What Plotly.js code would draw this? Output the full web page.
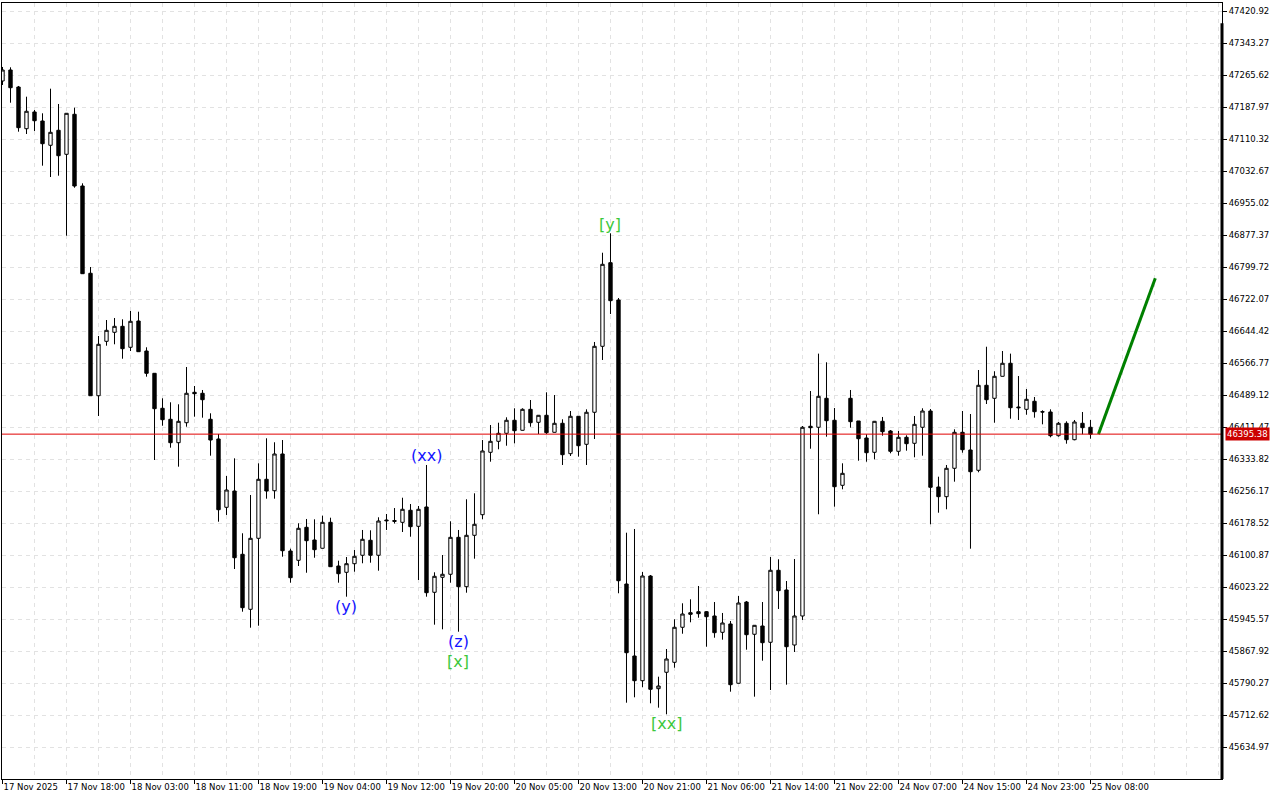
<!DOCTYPE html>
<html>
<head>
<meta charset="utf-8">
<script src="https://cdn.plot.ly/plotly-3.0.1.min.js"></script>
<style>html,body{margin:0;padding:0;background:#fff}#chart{width:1280px;height:800px}</style>
</head>
<body>
<div id="chart"></div>
<script>
// ---- data ----
const xLabels = ["17 Nov 2025","17 Nov 18:00","18 Nov 03:00","18 Nov 11:00","18 Nov 19:00","19 Nov 04:00","19 Nov 12:00","19 Nov 20:00","20 Nov 05:00","20 Nov 13:00","20 Nov 21:00","21 Nov 06:00","21 Nov 14:00","21 Nov 22:00","24 Nov 07:00","24 Nov 15:00","24 Nov 23:00","25 Nov 08:00"];

const opens = [47252.3,47279.0,47237.7,47136.5,47177.1,47155.2,47096.3,47132.7,47074.4,47171.5,
46997.5,46785.7,46488.6,46620.6,46642.5,46657.0,46606.1,46669.9,46597.1,46543.0,
46458.1,46431.4,46374.6,46423.1,46496.9,46494.5,46431.4,46383.6,46217.8,46257.4,
46103.8,45970.3,46142.6,46285.8,46258.1,46347.2,46111.8,46089.2,46169.3,46138.5,
46118.4,46181.4,46075.4,46060.1,46081.0,46101.4,46137.8,46101.4,46187.0,46183.4,
46181.4,46210.6,46171.7,46218.6,46011.6,46048.0,46055.3,46145.0,46025.2,46149.9,
46199.9,46351.3,46378.0,46397.4,46429.0,46404.7,46455.6,46424.1,46441.1,46399.8,
46421.7,46347.9,46438.7,46370.7,46448.4,46608.5,46811.4,46720.9,46031.7,45857.0,
45797.1,46051.1,45777.7,45817.5,45841.7,45926.7,45962.1,45964.5,45964.5,45954.1,
45914.5,45934.7,45790.8,45988.0,45909.7,45929.8,45890.3,46065.0,46017.2,45883.7,
45954.1,46414.4,46412.0,46482.3,46429.0,46271.2,46482.3,46427.3,46386.0,46351.3,
46426.5,46403.0,46353.7,46387.7,46373.1,46412.0,46451.5,46267.1,46243.6,46312.5,
46399.8,46356.9,46307.6,46513.9,46482.3,46535.7,46567.3,46461.2,46455.6,46475.1,
46449.8,46449.1,46391.6,46421.7,46381.9,46421.7,46412.0];

const highs = [47286.3,47285.5,47240.2,47214.2,47181.9,47173.9,47233.6,47196.5,47174.6,47187.5,
47004.0,46800.9,46633.5,46672.3,46677.2,46674.0,46694.2,46692.5,46606.1,46543.7,
46482.3,46472.6,46467.8,46558.3,46512.2,46502.5,46445.9,46395.7,46293.8,46336.7,
46154.8,46247.7,46324.6,46385.3,46375.6,46381.1,46117.4,46179.0,46189.5,46188.7,
46197.5,46192.6,46088.3,46097.2,46114.2,46162.8,46162.0,46193.6,46201.6,46216.1,
46241.1,46225.8,46221.0,46320.5,46060.1,46102.1,46183.9,46162.8,46237.3,46251.8,
46381.1,46417.5,46423.1,46436.2,46458.1,46458.1,46478.2,46441.8,46496.9,46490.3,
46431.4,46451.5,46439.4,46455.6,46619.0,46835.6,46882.7,46725.7,46156.2,46165.2,
46060.8,46053.5,45806.8,45874.0,45946.1,45984.9,45994.6,46026.9,45966.2,45988.0,
45961.4,45941.9,46002.6,45990.5,45932.2,45988.0,46097.2,46091.7,46039.0,46092.4,
46415.1,46500.0,46590.7,46569.7,46458.8,46324.6,46502.5,46427.3,46395.0,46427.3,
46437.0,46405.4,46403.0,46392.6,46439.4,46458.1,46456.4,46292.1,46320.5,46407.1,
46451.5,46444.2,46551.0,46607.5,46547.9,46597.1,46590.7,46536.4,46504.9,46485.5,
46453.2,46455.6,46424.8,46426.5,46429.7,46449.1,46429.7];

const lows = [47242.6,47199.6,47129.3,47123.7,47131.0,47046.8,47019.3,47022.5,46876.9,46993.4,
46784.0,46487.9,46439.4,46610.0,46613.4,46578.4,46597.1,46594.7,46534.8,46332.6,
46415.8,46362.5,46316.4,46413.4,46437.7,46435.3,46343.1,46182.9,46199.2,46068.1,
45964.5,45925.7,45930.5,46238.7,46238.7,46098.0,46034.9,46075.4,46059.1,46095.5,
46117.9,46073.0,46034.9,46000.9,46061.6,46082.0,46083.4,46064.0,46162.8,46178.5,
46157.9,46146.5,46041.4,46000.9,45933.0,45921.8,46034.9,45916.0,46010.6,46093.1,
46188.7,46328.5,46358.6,46367.3,46373.1,46404.2,46413.4,46395.7,46395.7,46399.3,
46320.5,46342.3,46340.6,46320.5,46383.6,46575.3,46686.9,46009.2,45743.7,45756.8,
45781.1,45742.2,45731.6,45715.5,45828.6,45911.1,45938.8,45949.9,45879.6,45901.4,
45896.6,45770.4,45790.3,45872.3,45758.3,45845.6,45774.5,45971.1,45787.4,45866.7,
45944.4,46360.0,46200.9,46389.2,46219.3,46261.5,46411.0,46330.9,46328.5,46334.3,
46391.6,46348.9,46343.1,46355.2,46339.2,46343.1,46176.6,46204.7,46213.0,46280.0,
46350.3,46117.4,46302.8,46468.5,46423.1,46535.2,46432.8,46429.7,46442.5,46435.3,
46419.2,46387.7,46389.2,46372.2,46380.4,46395.0,46384.3];

const closes = [47279.0,47236.0,47139.0,47178.8,47155.9,47100.1,47127.8,47071.0,47173.9,46997.5,
46784.7,46488.6,46613.4,46647.3,46657.0,46602.7,46669.2,46595.4,46543.0,46457.1,
46430.4,46374.6,46426.5,46494.5,46493.5,46478.9,46381.1,46212.0,46259.8,46095.5,
45974.2,46142.6,46285.8,46257.4,46347.2,46112.5,46047.0,46166.9,46136.8,46115.0,
46181.4,46073.7,46056.7,46081.0,46098.9,46140.2,46101.4,46184.6,46185.3,46185.8,
46213.0,46170.8,46213.0,46010.6,46050.4,46055.3,46145.0,46025.2,46149.9,46176.6,
46354.5,46378.0,46397.4,46429.0,46403.7,46455.6,46423.1,46441.1,46398.9,46421.7,
46345.5,46438.7,46367.3,46448.4,46608.5,46807.5,46719.2,46039.7,45865.0,45797.1,
46051.1,45776.2,45784.2,45849.7,45926.7,45958.9,45958.2,45959.7,45952.4,45913.6,
45937.1,45787.4,45985.6,45908.7,45931.5,45889.3,46065.0,46015.5,45879.6,45954.1,
46412.0,46411.0,46487.2,46428.0,46267.8,46300.3,46425.6,46384.3,46350.3,46426.5,
46401.3,46353.7,46387.7,46372.2,46419.2,46451.5,46266.4,46243.6,46312.5,46399.8,
46357.6,46304.2,46513.9,46478.9,46535.7,46567.3,46459.5,46459.5,46479.9,46449.8,
46449.1,46391.6,46421.7,46381.9,46424.8,46411.0,46395.38];

const yTickVals = [45634.97,45712.62,45790.27,45867.92,45945.57,46023.22,46100.87,46178.52,
46256.17,46333.82,46411.47,46489.12,46566.77,46644.42,46722.07,46799.72,46877.37,46955.02,
47032.67,47110.32,47187.97,47265.62,47343.27,47420.92];

const lastPrice = 46395.38;
const forecastX = [137, 144.1];
const forecastY = [46395.38, 46773.5];

const waveLabels = [
  {text:"(xx)", bar:53, at:"high", color:"#1414ff", shift:-2},
  {text:"(y)",  bar:43, at:"low",  color:"#1414ff", shift:2},
  {text:"(z)",  bar:57, at:"low",  color:"#1414ff", shift:2},
  {text:"[x]",  bar:57, at:"low",  color:"#3cc83c", shift:-18},
  {text:"[y]",  bar:76, at:"high", color:"#3cc83c", shift:-3},
  {text:"[xx]", bar:83, at:"low",  color:"#3cc83c", shift:2}
];

// ---- build ----
const BAR_STEP = 8; // candles between labelled ticks
const idx = opens.map((_, i) => i);
const majorVals = xLabels.map((_, k) => k * BAR_STEP);
const minorVals = [];
for (let v = 4; v <= 152; v += 4) if (majorVals.indexOf(v) < 0) minorVals.push(v);

const font = {family: "DejaVu Sans, sans-serif", size: 8.5, color: "#000"};
const gridColor = "#e2e2e2";
const gridDash = "4px,4px";

const candles = {
  type: "candlestick",
  x: idx, open: opens, high: highs, low: lows, close: closes,
  increasing: {line: {color: "#000", width: 1}, fillcolor: "#fff"},
  decreasing: {line: {color: "#000", width: 1}, fillcolor: "#000"},
  whiskerwidth: 0,
  hoverinfo: "skip",
  showlegend: false
};

const forecast = {
  type: "scatter", mode: "lines", x: forecastX, y: forecastY,
  line: {color: "#008000", width: 3}, hoverinfo: "skip", showlegend: false
};

const annotations = waveLabels.map(w => ({
  x: w.bar, xref: "x",
  y: w.at === "high" ? highs[w.bar] : lows[w.bar], yref: "y",
  yanchor: w.at === "high" ? "bottom" : "top",
  yshift: w.shift,
  text: w.text, showarrow: false,
  font: {family: "DejaVu Sans, sans-serif", size: 16, color: w.color}
}));
annotations.push({
  xref: "paper", x: 1, xanchor: "left", xshift: 3,
  yref: "y", y: lastPrice, yanchor: "middle",
  text: lastPrice.toFixed(2), showarrow: false,
  bgcolor: "#cc0000", borderpad: 1,
  font: {family: "DejaVu Sans, sans-serif", size: 8.5, color: "#fff"}
});

const layout = {
  width: 1280, height: 800,
  margin: {l: 2, r: 58, t: 3, b: 21, pad: 0},
  paper_bgcolor: "#fff", plot_bgcolor: "#fff",
  showlegend: false,
  boxgap: 0.4,
  xaxis: {
    range: [-0.0625, 152.44],
    rangeslider: {visible: false},
    tickmode: "array", tickvals: majorVals, ticktext: xLabels,
    tickangle: 0,
    ticks: "outside", ticklen: 4, tickcolor: "#000", tickwidth: 1,
    ticklabelposition: "outside right",
    showgrid: true, gridcolor: gridColor, griddash: gridDash, gridwidth: 1,
    minor: {tickmode: "array", tickvals: minorVals, showgrid: true,
            gridcolor: gridColor, griddash: gridDash, gridwidth: 1, ticks: ""},
    showline: true, linecolor: "#000", linewidth: 1, mirror: true,
    zeroline: false, tickfont: font, fixedrange: true
  },
  yaxis: {
    side: "right",
    range: [45558.54, 47441.55],
    tickmode: "array", tickvals: yTickVals, ticktext: yTickVals.map(v => v.toFixed(2)),
    ticks: "outside", ticklen: 4, tickcolor: "#000", tickwidth: 1,
    showgrid: true, gridcolor: gridColor, griddash: gridDash, gridwidth: 1,
    showline: true, linecolor: "#000", linewidth: 1, mirror: true,
    zeroline: false, tickfont: font, fixedrange: true
  },
  shapes: [
    {type: "line", xref: "paper", x0: 0, x1: 1, yref: "y", y0: lastPrice, y1: lastPrice,
     line: {color: "#e00000", width: 1}, layer: "above"},
    {type: "line", xref: "paper", x0: 1, x1: 1, yref: "paper", y0: 0, y1: 0.974,
     line: {color: "#000", width: 3}, layer: "above"}
  ],
  annotations: annotations
};

Plotly.newPlot("chart", [candles, forecast], layout, {displayModeBar: false, staticPlot: true});
</script>
</body>
</html>
